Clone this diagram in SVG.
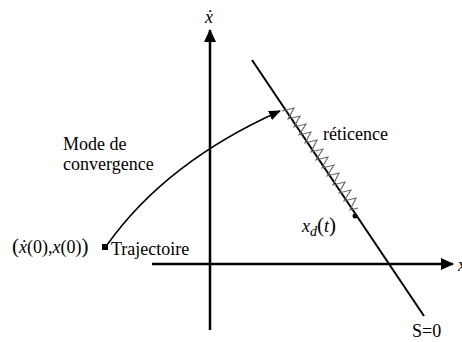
<svg xmlns="http://www.w3.org/2000/svg" width="462" height="342" viewBox="0 0 462 342">
<style>
text{font-family:"Liberation Serif","Times New Roman",serif;fill:#000;font-size:18px}
.it{font-style:italic}
.axis{stroke:#000;stroke-width:2.5;fill:none}
.sl{stroke:#000;stroke-width:2;fill:none}
.cv{stroke:#000;stroke-width:1.5;fill:none}
.zz{stroke:#666;stroke-width:1.1;fill:none;stroke-linejoin:miter}
</style>
<defs>
<marker id="ah" markerWidth="12" markerHeight="10" refX="11" refY="5" orient="auto" markerUnits="userSpaceOnUse">
<path d="M0,0 L12,5 L0,10 Z" fill="#000"/>
</marker>
<marker id="ax" markerWidth="13" markerHeight="12" refX="12" refY="6" orient="auto" markerUnits="userSpaceOnUse">
<path d="M0,0 L13,6 L0,12 Z" fill="#000"/>
</marker>
</defs>
<g id="connectors">
<line id="yaxis" class="axis" x1="210" y1="330" x2="210" y2="30" marker-end="url(#ax)"/>
<line id="xaxis" class="axis" x1="152" y1="264" x2="453" y2="264" marker-end="url(#ax)"/>
<line id="surface" class="sl" x1="252" y1="60" x2="424" y2="316"/>
<path id="traj" class="cv" d="M107,245 Q166,162 280,111" marker-end="url(#ah)"/>
<polyline id="chatter" class="zz" points="282,111 294,108 288,119 300,116 294,127 306,124 299,135 311,132 305,143 317,140 311,152 323,149 316,160 328,157 322,168 334,165 327,176 339,173 333,185 345,182 339,193 351,190 344,201 356,198 350,210 358,208"/>
</g>
<g id="start">
<rect x="102" y="244" width="6" height="6" fill="#000"/>
<text x="12" y="253"><tspan font-size="21px">(</tspan><tspan class="it">ẋ</tspan>(0),<tspan class="it">x</tspan>(0)<tspan font-size="21px">)</tspan></text>
<text x="111" y="255">Trajectoire</text>
</g>
<g id="mode">
<text x="63" y="150">Mode de</text>
<text x="63" y="170">convergence</text>
</g>
<g id="reticence">
<text x="323" y="140">réticence</text>
</g>
<g id="xd">
<circle cx="355" cy="216" r="2.5" fill="#000"/>
<text x="302" y="232"><tspan class="it">x</tspan><tspan class="it" font-size="14px" dy="4">d</tspan><tspan dy="-4" font-size="21px">(</tspan><tspan class="it">t</tspan><tspan font-size="21px">)</tspan></text>
</g>
<g id="labels">
<text class="it" x="205" y="23">ẋ</text>
<text class="it" x="458" y="271">x</text>
<text x="412" y="337">S=0</text>
</g>
</svg>
